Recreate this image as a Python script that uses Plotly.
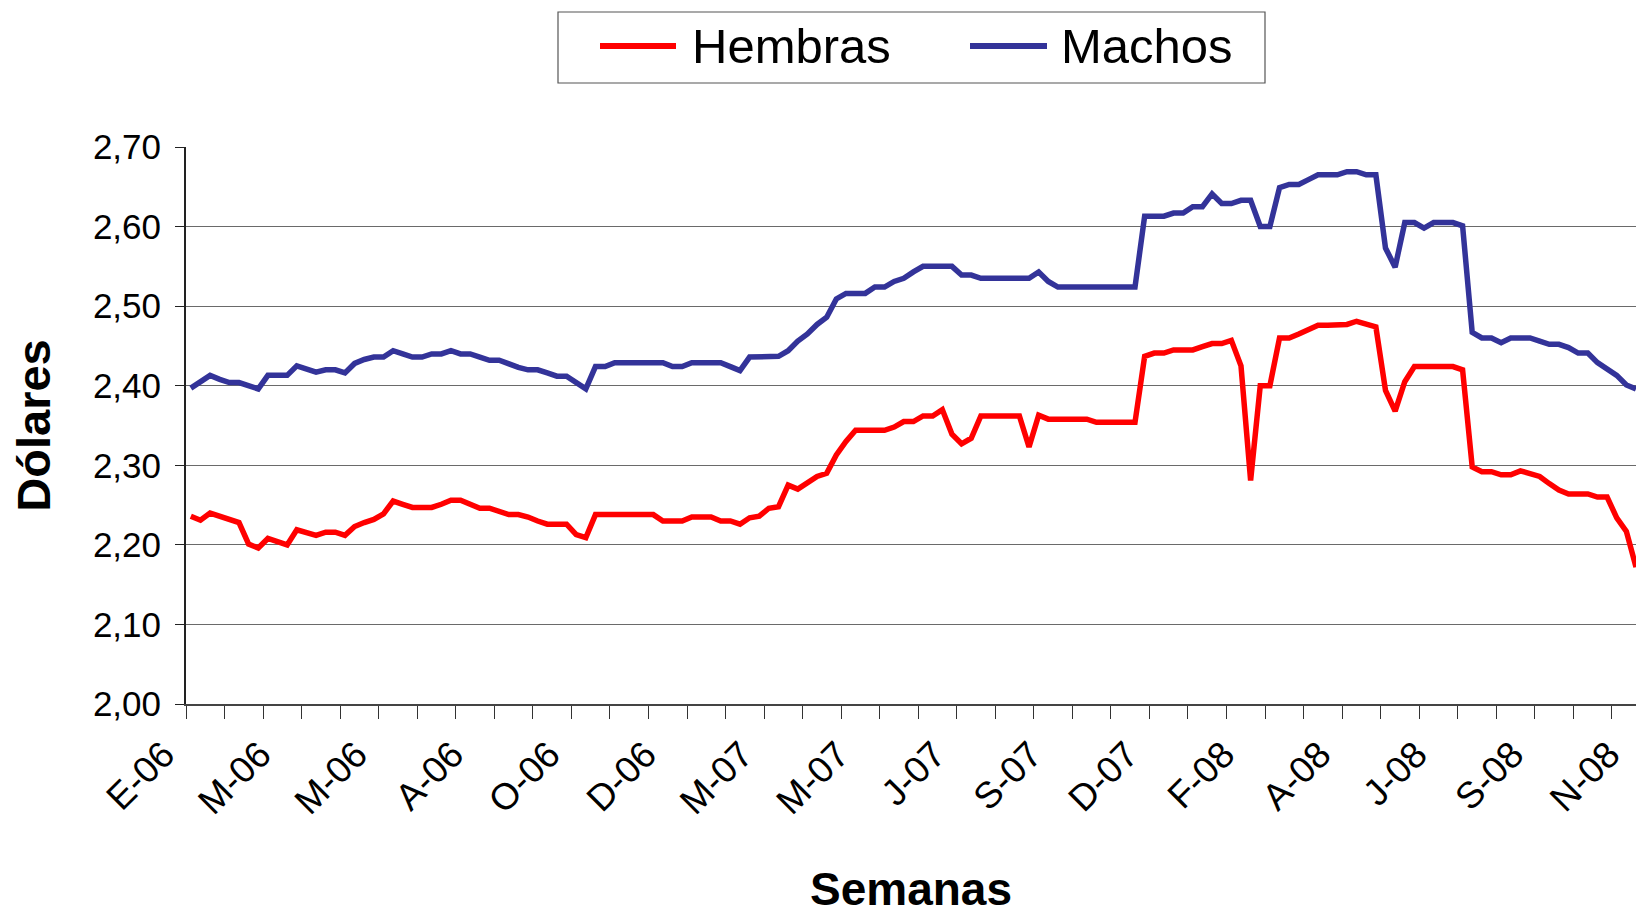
import plotly.graph_objects as go

# ---------------- data ----------------
semana = list(range(151))  # weekly categories, Jan-2006 .. Nov-2008

hembras = [
    2.236, 2.231, 2.240, 2.236, 2.232, 2.228, 2.201, 2.196, 2.208, 2.204,
    2.200, 2.219, 2.216, 2.212, 2.216, 2.216, 2.212, 2.223, 2.228, 2.232,
    2.239, 2.255, 2.251, 2.247, 2.247, 2.247, 2.251, 2.256, 2.256, 2.251,
    2.246, 2.246, 2.242, 2.238, 2.238, 2.235, 2.230, 2.226, 2.226, 2.226,
    2.213, 2.209, 2.238, 2.238, 2.238, 2.238, 2.238, 2.238, 2.238, 2.230,
    2.230, 2.230, 2.235, 2.235, 2.235, 2.230, 2.230, 2.226, 2.234, 2.236,
    2.246, 2.248, 2.275, 2.270, 2.278, 2.286, 2.290, 2.313, 2.330, 2.344,
    2.344, 2.344, 2.344, 2.348, 2.355, 2.355, 2.362, 2.362, 2.370, 2.339,
    2.327, 2.334, 2.362, 2.362, 2.362, 2.362, 2.362, 2.323, 2.363, 2.358,
    2.358, 2.358, 2.358, 2.358, 2.354, 2.354, 2.354, 2.354, 2.354, 2.437,
    2.441, 2.441, 2.445, 2.445, 2.445, 2.449, 2.453, 2.453, 2.457, 2.425,
    2.281, 2.400, 2.400, 2.460, 2.460, 2.465, 2.471, 2.476, 2.476, 2.476,
    2.477, 2.481, 2.477, 2.474, 2.394, 2.368, 2.405, 2.424, 2.424, 2.424,
    2.424, 2.424, 2.420, 2.298, 2.292, 2.292, 2.288, 2.288, 2.293, 2.290,
    2.286, 2.277, 2.269, 2.264, 2.264, 2.264, 2.260, 2.260, 2.234, 2.217,
    2.172,
]

machos = [
    2.397, 2.405, 2.413, 2.408, 2.404, 2.404, 2.400, 2.396, 2.413, 2.413,
    2.413, 2.425, 2.421, 2.417, 2.420, 2.420, 2.416, 2.428, 2.433, 2.436,
    2.436, 2.444, 2.440, 2.436, 2.436, 2.440, 2.440, 2.444, 2.440, 2.440,
    2.436, 2.432, 2.432, 2.427, 2.423, 2.420, 2.420, 2.416, 2.412, 2.412,
    2.403, 2.396, 2.424, 2.424, 2.429, 2.429, 2.429, 2.429, 2.429, 2.429,
    2.424, 2.424, 2.429, 2.429, 2.429, 2.429, 2.424, 2.419, 2.436, 2.436,
    2.437, 2.437, 2.444, 2.456, 2.465, 2.477, 2.486, 2.509, 2.516, 2.516,
    2.516, 2.524, 2.524, 2.531, 2.535, 2.543, 2.550, 2.550, 2.550, 2.550,
    2.539, 2.539, 2.535, 2.535, 2.535, 2.535, 2.535, 2.535, 2.543, 2.531,
    2.524, 2.524, 2.524, 2.524, 2.524, 2.524, 2.524, 2.524, 2.524, 2.613,
    2.613, 2.613, 2.617, 2.617, 2.625, 2.625, 2.641, 2.629, 2.629, 2.633,
    2.633, 2.600, 2.600, 2.649, 2.653, 2.653, 2.659, 2.665, 2.665, 2.665,
    2.669, 2.669, 2.665, 2.665, 2.573, 2.549, 2.605, 2.605, 2.598, 2.605,
    2.605, 2.605, 2.601, 2.467, 2.460, 2.460, 2.454, 2.460, 2.460, 2.460,
    2.456, 2.452, 2.452, 2.448, 2.441, 2.441, 2.429, 2.420, 2.413, 2.401,
    2.396,
]

tick_pos = [0, 10, 20, 30, 40, 50, 60, 70, 80, 90, 100, 110, 120, 130, 140, 150]
tick_labels = ["E-06", "M-06", "M-06", "A-06", "O-06", "D-06", "M-07", "M-07",
               "J-07", "S-07", "D-07", "F-08", "A-08", "J-08", "S-08", "N-08"]

y_ticks = [2.00, 2.10, 2.20, 2.30, 2.40, 2.50, 2.60, 2.70]

series_names = ["Hembras", "Machos"]
series_colors = ["#FF0000", "#333399"]

# ---------------- layout constants ----------------
W, H = 1636, 915
ML, MR, MT, MB = 186, 0, 147, 211
FONT = "Arial, Liberation Sans, sans-serif"

fig = go.Figure()
for name, vals, col in zip(series_names, [hembras, machos], series_colors):
    fig.add_trace(go.Scatter(x=semana, y=vals, name=name, mode="lines",
                             line=dict(color=col, width=5.5), showlegend=False))

# manual legend (box, line samples, labels) in pixel-derived paper coords
def px(xp):
    return (xp - ML) / (W - ML - MR)

def py(yp):
    return (H - MB - yp) / (H - MT - MB)

shapes = [dict(type="rect", xref="paper", yref="paper",
               x0=px(558), x1=px(1265), y0=py(83), y1=py(12),
               line=dict(color="#555555", width=1.2), fillcolor="white", layer="above")]
annotations = []
leg_line_x = [(600, 676), (970, 1047)]
leg_text_x = [690, 1059]
for (x0, x1), tx, name, col in zip(leg_line_x, leg_text_x, series_names, series_colors):
    shapes.append(dict(type="line", xref="paper", yref="paper",
                       x0=px(x0), x1=px(x1), y0=py(46), y1=py(46),
                       line=dict(color=col, width=6), layer="above"))
    annotations.append(dict(xref="paper", yref="paper", x=px(tx), y=py(46),
                            text=name, showarrow=False, xanchor="left", yanchor="middle",
                            font=dict(family=FONT, size=49, color="black")))

fig.update_layout(
    width=W, height=H,
    margin=dict(l=ML, r=MR, t=MT, b=MB, autoexpand=False),
    paper_bgcolor="white", plot_bgcolor="white",
    separators=",.",
    shapes=shapes, annotations=annotations,
    font=dict(family=FONT, color="black"),
    xaxis=dict(
        range=[-0.5, 150], showgrid=False, zeroline=False,
        tickmode="array", tickvals=tick_pos, ticktext=tick_labels,
        tickangle=-45, ticks="", ticklabelstandoff=12, ticklabelshift=-27,
        tickfont=dict(family=FONT, size=37, color="black"),
        showline=True, linecolor="#444444", linewidth=2,
        minor=dict(tickmode="linear", tick0=-0.5, dtick=4, ticks="outside",
                   ticklen=13, tickcolor="#333333", tickwidth=1, showgrid=False),
        title=dict(text="<b>Semanas</b>", standoff=68,
                   font=dict(family=FONT, size=46, color="black")),
        automargin=False, fixedrange=True,
    ),
    yaxis=dict(
        range=[2.0, 2.7], tickmode="array", tickvals=y_ticks, tickformat=".2f",
        showgrid=True, gridcolor="#6a6a6a", gridwidth=1.2, zeroline=False,
        ticks="outside", ticklen=9, tickcolor="#222222", tickwidth=1,
        ticklabelstandoff=7,
        tickfont=dict(family=FONT, size=35, color="black"),
        showline=True, linecolor="#222222", linewidth=2,
        title=dict(text="<b>Dólares</b>", standoff=27,
                   font=dict(family=FONT, size=47, color="black")),
        automargin=False, fixedrange=True,
    ),
)

fig.write_html("out.html", config={"displayModeBar": False},
               post_script="document.body.style.margin='0';document.body.style.overflow='hidden';")
